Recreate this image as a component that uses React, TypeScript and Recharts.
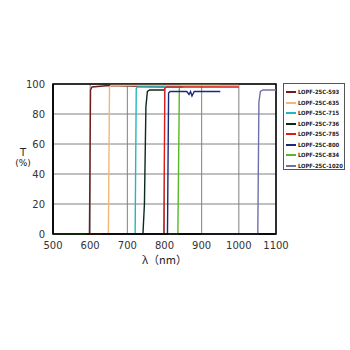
import React from 'react';
import { LineChart, Line, XAxis, YAxis, CartesianGrid, ReferenceArea, Label } from 'recharts';

// wavelength (nm) / transmission (%) per filter
const names = ['LOPF-25C-593', 'LOPF-25C-635', 'LOPF-25C-715', 'LOPF-25C-736', 'LOPF-25C-785', 'LOPF-25C-800', 'LOPF-25C-834', 'LOPF-25C-1020'];
const colors = ['#6e1c1c', '#f0b878', '#20b8c0', '#0c2a1c', '#e01818', '#1a2a7a', '#58b828', '#7070a8'];

const wl593 = [590, 598, 601, 605, 650, 800];
const t593 = [0, 0, 96, 98, 99, 98];
const wl635 = [640, 649, 652, 656, 1000];
const t635 = [0, 0, 98, 99, 99];
const wl715 = [710, 721, 724, 728, 850];
const t715 = [0, 0, 97, 98, 98];
const wl736 = [700, 742, 746, 750, 754, 760, 800];
const t736 = [0, 0, 20, 85, 95, 96, 96];
const wl785 = [600, 798, 801, 805, 1000];
const t785 = [0, 0, 97, 98, 98];
const wl800 = [630, 808, 811, 815, 860, 866, 870, 874, 880, 950];
const t800 = [0, 0, 94, 95, 95, 93, 95, 92, 95, 95];
const wl834 = [500, 836, 840, 844, 950];
const t834 = [0, 0, 98, 99, 99];
const wl1020 = [900, 1051, 1054, 1058, 1065, 1100];
const t1020 = [0, 0, 88, 95, 96, 96];

const xTicks = [500, 600, 700, 800, 900, 1000, 1100];
const yTicks = [0, 20, 40, 60, 80, 100];

const toRows = (wl: number[], t: number[]) => wl.map((x, i) => ({ x, t: t[i] }));

// drawing order: green first so the other baselines sit on top of it
const series = [
  { idx: 6, data: toRows(wl834, t834) },
  { idx: 0, data: toRows(wl593, t593) },
  { idx: 1, data: toRows(wl635, t635) },
  { idx: 2, data: toRows(wl715, t715) },
  { idx: 3, data: toRows(wl736, t736) },
  { idx: 4, data: toRows(wl785, t785) },
  { idx: 5, data: toRows(wl800, t800) },
  { idx: 7, data: toRows(wl1020, t1020) },
];

const tickStyle = { fontSize: 10, fill: '#333', fontFamily: 'DejaVu Sans, sans-serif' };

export default function App() {
  return (
    <div style={{ position: 'absolute', left: 0, top: 0, width: 350, height: 350, background: '#fff' }}>
      <LineChart width={350} height={350} margin={{ top: 84, right: 74, left: 0, bottom: 86 }}>
        <CartesianGrid stroke="#808080" strokeWidth={1} />
        <XAxis
          dataKey="x"
          type="number"
          domain={[500, 1100]}
          ticks={xTicks}
          tick={tickStyle}
          tickLine={false}
          axisLine={{ stroke: '#000', strokeWidth: 1.5 }}
          height={30}
          allowDuplicatedCategory={false}
        >
          <Label value="λ（nm）" position="insideBottom" offset={0} style={{ fontSize: 11, fill: '#222', fontFamily: 'Noto Sans CJK JP, sans-serif' }} />
        </XAxis>
        <YAxis
          type="number"
          domain={[0, 100]}
          ticks={yTicks}
          tick={tickStyle}
          tickLine={false}
          axisLine={{ stroke: '#000', strokeWidth: 1.5 }}
          width={53}
        />
        {series.map((s) => (
          <Line
            key={names[s.idx]}
            data={s.data}
            dataKey="t"
            type="linear"
            stroke={colors[s.idx]}
            strokeWidth={1.4}
            dot={false}
            isAnimationActive={false}
          />
        ))}
        <ReferenceArea x1={500} x2={1100} y1={0} y2={100} fill="none" stroke="#000" strokeWidth={1.5} ifOverflow="visible" />
      </LineChart>
      <div style={{ position: 'absolute', left: 14, top: 147, width: 18, fontSize: 10, color: '#222', textAlign: 'center', lineHeight: '11px', fontFamily: 'DejaVu Sans, sans-serif' }}>
        <div>T</div>
        <div style={{ whiteSpace: 'nowrap', fontSize: 9 }}>(%)</div>
      </div>
      <div style={{ position: 'absolute', left: 283, top: 83, width: 62, height: 87, border: '1px solid #555', boxSizing: 'border-box', padding: '3px 0 0 2px' }}>
        {names.map((n, i) => (
          <div key={n} style={{ display: 'flex', alignItems: 'center', height: 10.5 }}>
            <div style={{ width: 10, height: 2, background: colors[i], marginRight: 2 }} />
            <span style={{ fontSize: 5.8, fontFamily: 'DejaVu Sans Condensed, sans-serif', fontWeight: 'bold', color: '#222', whiteSpace: 'nowrap' }}>{n}</span>
          </div>
        ))}
      </div>
    </div>
  );
}
